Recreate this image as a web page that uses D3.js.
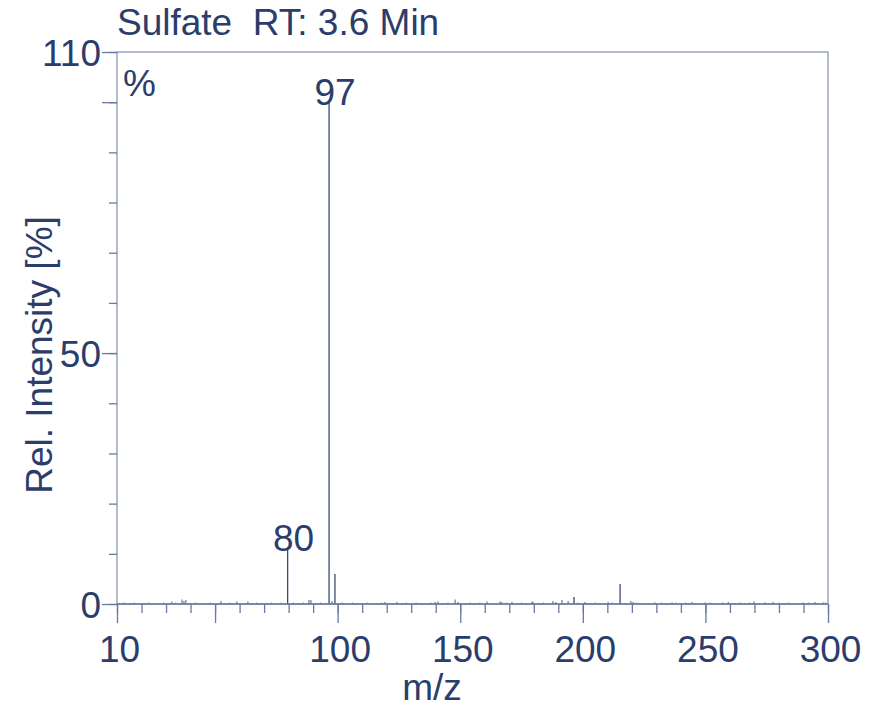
<!DOCTYPE html>
<html>
<head>
<meta charset="utf-8">
<script src="https://cdn.jsdelivr.net/npm/d3@7"></script>
<style>
  html, body { margin: 0; padding: 0; background: #ffffff; }
  svg { display: block; }
  text { font-family: "Liberation Sans", Arial, sans-serif; fill: #2b3d6b; }
</style>
</head>
<body>
<svg id="chart" width="877" height="710"></svg>
<script>
// ---- data ----
const title = "Sulfate  RT: 3.6 Min";
const xLabel = "m/z";
const yLabel = "Rel. Intensity [%]";
const unitLabel = "%";

// main peaks
const peakMz        = [79.6, 96.5, 98.9, 196.4, 215.2];
const peakIntensity = [11.2, 100.0, 6.0, 1.4, 4.0];

// labelled peaks
const labelMz    = [79.6, 96.5];
const labelValue = [11.2, 100.0];
const labelText  = ["80", "97"];

// small peaks above the noise band
const minorMz        = [32.4, 36.5, 37.3, 38.1, 52.4, 58.9, 63.4, 88.3, 89.1, 97.7, 119.3, 124.2, 139.7, 140.9, 147.9, 149.1, 160.9, 166.2, 167.0, 171.1, 179.3, 179.7, 187.8, 189.0, 191.5, 194.0, 200.9, 210.3, 219.6, 220.5, 229.4, 236.4, 244.5, 249.8, 257.2, 259.3, 269.8, 274.3, 277.6, 289.8, 294.7, 298.0];
const minorIntensity = [0.5, 0.9, 0.6, 0.8, 0.6, 0.5, 0.5, 0.8, 0.8, 0.6, 0.4, 0.4, 0.4, 0.5, 0.9, 0.4, 0.5, 0.5, 0.4, 0.4, 0.5, 0.4, 0.6, 0.4, 0.8, 0.6, 0.4, 0.4, 0.6, 0.4, 0.3, 0.3, 0.4, 0.3, 0.3, 0.4, 0.5, 0.3, 0.4, 0.3, 0.4, 0.3];

// baseline noise band
const noiseMz        = [11, 13, 15, 17, 19, 21, 23, 25, 27, 29, 31, 34, 40, 42, 44, 46, 48, 54, 56, 61, 65, 67, 69, 71, 73, 75, 77, 82, 84, 86, 91, 93, 102, 104, 106, 108, 110, 112, 114, 116, 118, 121, 126, 128, 130, 132, 134, 136, 138, 143, 145, 152, 154, 156, 158, 163, 169, 173, 175, 177, 182, 184, 186, 198, 203, 205, 207, 212, 217, 222, 224, 226, 232, 234, 238, 240, 242, 247, 252, 254, 262, 264, 266, 268, 272, 280, 282, 284, 286, 292, 296, 299];
const noiseIntensity = [0.2, 0.3, 0.2, 0.3, 0.2, 0.2, 0.3, 0.2, 0.2, 0.3, 0.2, 0.3, 0.2, 0.3, 0.2, 0.2, 0.3, 0.2, 0.3, 0.2, 0.2, 0.3, 0.2, 0.2, 0.3, 0.2, 0.3, 0.3, 0.2, 0.3, 0.2, 0.3, 0.3, 0.2, 0.3, 0.2, 0.2, 0.3, 0.2, 0.2, 0.3, 0.2, 0.2, 0.3, 0.2, 0.3, 0.2, 0.2, 0.3, 0.2, 0.3, 0.2, 0.3, 0.2, 0.3, 0.2, 0.3, 0.2, 0.3, 0.2, 0.2, 0.3, 0.2, 0.3, 0.2, 0.3, 0.2, 0.3, 0.2, 0.3, 0.2, 0.2, 0.3, 0.2, 0.3, 0.2, 0.3, 0.2, 0.3, 0.2, 0.2, 0.3, 0.2, 0.3, 0.2, 0.3, 0.2, 0.3, 0.2, 0.3, 0.2, 0.3];

const xMinorTicks = [10, 20, 30, 40, 50, 60, 70, 80, 90, 100, 110, 120, 130, 140, 150, 160, 170, 180, 190, 200, 210, 220, 230, 240, 250, 260, 270, 280, 290, 300];
const xMajorTicks = [10, 50, 100, 150, 200, 250, 300];
const xTickLabels = [10, 100, 150, 200, 250, 300];
const yMinorTicks = [0, 10, 20, 30, 40, 50, 60, 70, 80, 90, 100, 110];
const yMajorTicks = [0, 50, 100, 110];
const yTickLabels = [0, 50, 110];

// ---- layout ----
const svg = d3.select("#chart");
const mLeft = 117, mRight = 828, mTop = 52, mBottom = 604;
const axisColor = "#6a79a0";
const textColor = "#2b3d6b";
const fontSize = "37px";

const x = d3.scaleLinear().domain([10, 300]).range([mLeft, mRight]);
const y = d3.scaleLinear().domain([0, 110]).range([mBottom, mTop]);

// frame
svg.append("rect")
  .attr("x", mLeft).attr("y", mTop)
  .attr("width", mRight - mLeft).attr("height", mBottom - mTop)
  .attr("fill", "none").attr("stroke", axisColor).attr("stroke-width", 1);

// x axis ticks
const xAxisMinor = d3.axisBottom(x).tickValues(xMinorTicks).tickSize(9).tickFormat("");
const xAxisMajor = d3.axisBottom(x).tickValues(xMajorTicks).tickSize(19).tickFormat("");
[xAxisMinor, xAxisMajor].forEach(ax => {
  const g = svg.append("g").attr("transform", `translate(0,${mBottom})`).call(ax);
  g.select(".domain").remove();
  g.selectAll("line").attr("stroke", axisColor).attr("stroke-width", 1.3);
});
const xAxisLabels = d3.axisBottom(x).tickValues(xTickLabels).tickSize(0).tickPadding(0).tickFormat(d3.format("d"));
const gxl = svg.append("g").attr("transform", `translate(0,${mBottom})`).call(xAxisLabels);
gxl.select(".domain").remove();
gxl.selectAll("text")
  .attr("y", 58).attr("dy", null)
  .attr("dx", 2)
  .style("font-size", fontSize).style("font-family", "'Liberation Sans', Arial, sans-serif")
  .attr("fill", textColor);

// y axis ticks
const yAxisMinor = d3.axisLeft(y).tickValues(yMinorTicks).tickSize(8).tickFormat("");
const yAxisMajor = d3.axisLeft(y).tickValues(yMajorTicks).tickSize(15).tickFormat("");
[yAxisMinor, yAxisMajor].forEach(ax => {
  const g = svg.append("g").attr("transform", `translate(${mLeft},0)`).call(ax);
  g.select(".domain").remove();
  g.selectAll("line").attr("stroke", axisColor).attr("stroke-width", 1.3);
});
const yAxisLabels = d3.axisLeft(y).tickValues(yTickLabels).tickSize(0).tickPadding(0).tickFormat(d3.format("d"));
const gyl = svg.append("g").attr("transform", `translate(${mLeft},0)`).call(yAxisLabels);
gyl.select(".domain").remove();
gyl.selectAll("text")
  .attr("x", -16).attr("dy", "0.36em")
  .style("font-size", fontSize).style("font-family", "'Liberation Sans', Arial, sans-serif")
  .attr("fill", textColor);

// sticks
const stick = (mzArr, intArr, color, width) => {
  svg.append("g").selectAll("line")
    .data(mzArr.map((m, i) => ({ m, v: intArr[i] })))
    .join("line")
    .attr("x1", d => x(d.m)).attr("x2", d => x(d.m))
    .attr("y1", y(0)).attr("y2", d => y(d.v))
    .attr("stroke", color).attr("stroke-width", width);
};
stick(noiseMz, noiseIntensity, "#7d8aac", 1);
stick(minorMz, minorIntensity, "#4d5d88", 1);
stick(peakMz, peakIntensity, "#3a4a78", 1.3);

// baseline on top
svg.append("line")
  .attr("x1", mLeft).attr("x2", mRight).attr("y1", mBottom).attr("y2", mBottom)
  .attr("stroke", axisColor).attr("stroke-width", 1.3);

// peak labels
svg.append("g").selectAll("text")
  .data(labelMz.map((m, i) => ({ m, v: labelValue[i], t: labelText[i] })))
  .join("text")
  .attr("x", d => x(d.m) + 6)
  .attr("y", d => y(d.v) + 3)
  .attr("text-anchor", "middle")
  .style("font-size", fontSize)
  .text(d => d.t);

// % label
svg.append("text").attr("x", 123).attr("y", 96).style("font-size", fontSize).text(unitLabel);

// title
svg.append("text").attr("x", 117).attr("y", 35)
  .attr("xml:space", "preserve").style("white-space", "pre")
  .style("font-size", fontSize).text(title);

// axis titles
svg.append("text").attr("x", 432).attr("y", 700)
  .attr("text-anchor", "middle").style("font-size", fontSize).text(xLabel);
svg.append("text")
  .attr("transform", `translate(52,${(mTop + mBottom) / 2 + 27}) rotate(-90)`)
  .attr("text-anchor", "middle").style("font-size", fontSize).text(yLabel);
</script>
</body>
</html>
